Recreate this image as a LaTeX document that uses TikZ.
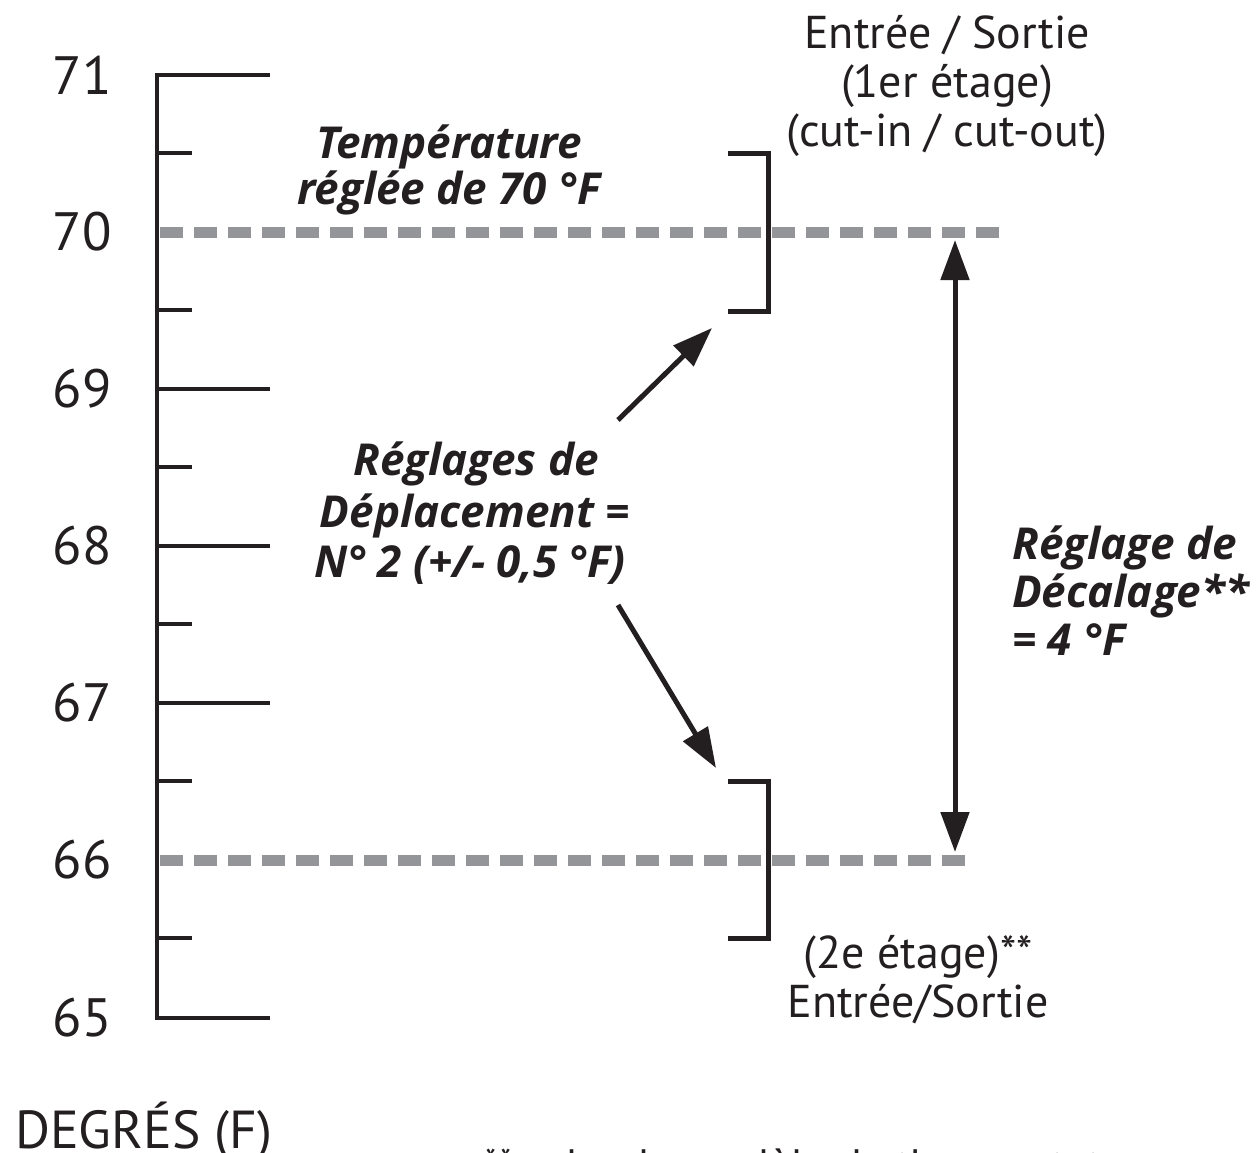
\documentclass[tikz,border=0pt]{standalone}
\usepackage{fontspec}
\setmainfont{PT Sans}
\newfontfamily\bifont{Open Sans}
\usetikzlibrary{arrows.meta}
\definecolor{ink}{HTML}{231F20}
\definecolor{dashgray}{HTML}{939598}
\begin{document}
\begin{tikzpicture}[x=1pt,y=-1pt,line join=miter,
  axisline/.style={draw=ink,line width=4pt},
  refline/.style={draw=dashgray,line width=11pt,dash pattern=on 23pt off 11pt},
  bracketline/.style={draw=ink,line width=5pt},
  tipA/.tip={Triangle[length=40pt,width=28pt]},
  arr/.style={draw=ink,line width=5pt,-tipA},
  darr/.style={draw=ink,line width=5pt,tipA-tipA},
  num/.style={font=\fontsize{54}{60}\selectfont,text=ink,inner sep=0pt},
  lbl/.style={font=\fontsize{46}{49}\selectfont,text=ink,inner sep=0pt,anchor=base},
  bilbl/.style={font=\bifont\fontsize{44}{49}\selectfont\bfseries\itshape,text=ink,inner sep=0pt,anchor=base}]
\useasboundingbox (0,0) rectangle (1259,1152);
\fill[white] (0,0) rectangle (1259,1152);

% reference lines
\draw[refline] (160,232) -- (1003,232);
\draw[refline] (160,860) -- (968,860);

% axis
\draw[axisline] (270,75) -- (157,75) -- (157,1018) -- (270,1018);
\foreach \y in {389,546,703}{\draw[axisline] (157,\y) -- (270,\y);}
\foreach \y in {153,310,467,624,781,938}{\draw[axisline] (157,\y) -- (192,\y);}

% numbers
\node[num] (n71) at (82,75) {71};
\node[num] (n70) at (82,232) {70};
\node[num] (n69) at (82,389) {69};
\node[num] (n68) at (82,546) {68};
\node[num] (n67) at (82,703) {67};
\node[num] (n66) at (82,860) {66};
\node[num] (n65) at (82,1018) {65};

% brackets
\draw[bracketline] (728,153) -- (768,153) -- (768,311) -- (728,311);
\draw[bracketline] (728,781) -- (768,781) -- (768,938) -- (728,938);

% labels
\node[lbl] (ioA) at (947,48) {Entrée / Sortie};
\node[lbl] (ioB) at (947,97) {(1er étage)};
\node[lbl] (ioC) at (947,146) {(cut-in / cut-out)};
\node[lbl] (io2A) at (918,968) {(2e étage)**};
\node[lbl] (io2B) at (918,1017) {Entrée/Sortie};
\node[bilbl] (tempA) at (449,158) {Température};
\node[bilbl] (tempB) at (449,204) {réglée de 70 °F};
\node[bilbl] (dispA) at (476,475) {Réglages de};
\node[bilbl] (dispB) at (475,527) {Déplacement =};
\node[bilbl] (dispC) at (470,577) {N° 2 (+/- 0,5 °F)};
\node[bilbl,anchor=base west] (offA) at (1012,559) {Réglage de};
\node[bilbl,anchor=base west] (offB) at (1012,607) {Décalage**};
\node[bilbl,anchor=base west] (offC) at (1012,655) {= 4 °F};
\node[font=\fontsize{53.5}{56}\selectfont,text=ink,inner sep=0pt,anchor=base west] (deg) at (15,1148) {DEGRÉS (F)};
\node[font=\fontsize{44}{49}\selectfont,text=ink,inner sep=0pt,anchor=base west] (foot) at (483,1180) {** selon le modèle de thermostat};

% arrows
\coordinate (u1) at (618,420);
\coordinate (u2) at (712,328);
\coordinate (l1) at (618,605);
\coordinate (l2) at (716,768);
\coordinate (v1) at (955,240);
\coordinate (v2) at (955,852);
\draw[arr] (u1) -- (u2);
\draw[arr] (l1) -- (l2);
\draw[darr] (v1) -- (v2);
\end{tikzpicture}
\end{document}
